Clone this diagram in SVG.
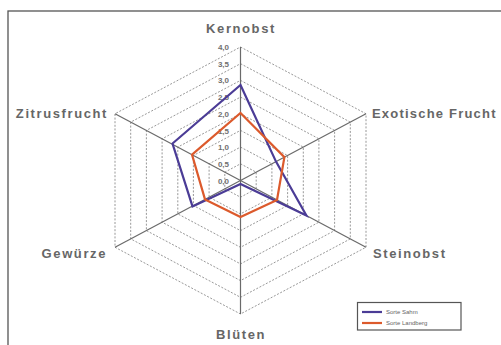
<svg xmlns="http://www.w3.org/2000/svg" width="501" height="345" viewBox="0 0 501 345">
<style>
.ring{fill:none;stroke:#8c8c8c;stroke-width:0.9;stroke-dasharray:2,1.6}
.axis{stroke:#6a6a6a;stroke-width:1.2;fill:none}
.lbl{font-family:"Liberation Sans",Arial,sans-serif;font-size:13px;font-weight:bold;fill:#666;letter-spacing:1.6px}
.tick{font-family:"Liberation Sans",Arial,sans-serif;font-size:8px;font-weight:bold;fill:#707070;text-anchor:end}
.leg{font-family:"Liberation Sans",Arial,sans-serif;font-size:6px;fill:#666}
.s1{fill:none;stroke:#4b3c96;stroke-width:2.2;stroke-linejoin:miter}
.s2{fill:none;stroke:#dc5a2c;stroke-width:2.2;stroke-linejoin:miter}
</style>
<rect x="0" y="0" width="501" height="345" fill="#ffffff"/>
<rect x="8" y="11" width="520" height="360" fill="none" stroke="#555" stroke-width="1.3"/>
<g id="grid">
<polygon class="ring" points="240.5,163.8 256.2,172.2 256.2,188.8 240.5,197.2 224.8,188.8 224.8,172.2"/>
<polygon class="ring" points="240.5,147.1 271.9,163.8 271.9,197.2 240.5,213.9 209.1,197.2 209.1,163.8"/>
<polygon class="ring" points="240.5,130.4 287.6,155.5 287.6,205.5 240.5,230.6 193.4,205.5 193.4,155.5"/>
<polygon class="ring" points="240.5,113.8 303.3,147.1 303.3,213.9 240.5,247.3 177.8,213.9 177.8,147.1"/>
<polygon class="ring" points="240.5,97.1 318.9,138.8 318.9,222.2 240.5,263.9 162.1,222.2 162.1,138.8"/>
<polygon class="ring" points="240.5,80.4 334.6,130.4 334.6,230.6 240.5,280.6 146.4,230.6 146.4,130.4"/>
<polygon class="ring" points="240.5,63.7 350.3,122.1 350.3,238.9 240.5,297.3 130.7,238.9 130.7,122.1"/>
<polygon class="ring" points="240.5,47 366,113.75 366,247.25 240.5,314 115,247.25 115,113.75"/>
</g>
<g id="connectors">
<line class="axis" x1="240.5" y1="180.5" x2="240.5" y2="47"/>
<line class="axis" x1="240.5" y1="180.5" x2="366" y2="113.75"/>
<line class="axis" x1="240.5" y1="180.5" x2="366" y2="247.25"/>
<line class="axis" x1="240.5" y1="180.5" x2="240.5" y2="314"/>
<line class="axis" x1="240.5" y1="180.5" x2="115" y2="247.25"/>
<line class="axis" x1="240.5" y1="180.5" x2="115" y2="113.75"/>
</g>
<g id="scale">
<text class="tick" x="229" y="50">4,0</text>
<text class="tick" x="229" y="66.7">3,5</text>
<text class="tick" x="229" y="83.4">3,0</text>
<text class="tick" x="229" y="100.1">2,5</text>
<text class="tick" x="229" y="116.8">2,0</text>
<text class="tick" x="229" y="133.5">1,5</text>
<text class="tick" x="229" y="150.2">1,0</text>
<text class="tick" x="229" y="166.9">0,5</text>
<text class="tick" x="229" y="183.6">0,0</text>
</g>
<g id="series-1">
<polygon class="s1" points="240.5,85 276,161.6 306.4,215.5 240.5,184 192.5,206.4 172.5,143.5"/>
</g>
<g id="series-2">
<polygon class="s2" points="240.5,113 284.4,157.1 277,200 240.5,217 205,199.4 192,154.6"/>
</g>
<g id="node-kernobst"><text class="lbl" x="241" y="33" text-anchor="middle">Kernobst</text></g>
<g id="node-exotische-frucht"><text class="lbl" x="372" y="118" style="letter-spacing:1.2px">Exotische Frucht</text></g>
<g id="node-steinobst"><text class="lbl" x="373" y="258">Steinobst</text></g>
<g id="node-blueten"><text class="lbl" x="241" y="339" text-anchor="middle">Blüten</text></g>
<g id="node-gewuerze"><text class="lbl" x="107" y="258" text-anchor="end">Gewürze</text></g>
<g id="node-zitrusfrucht"><text class="lbl" x="108" y="118" text-anchor="end">Zitrusfrucht</text></g>
<g id="legend">
<rect x="357.5" y="302.5" width="103.5" height="27.5" fill="#fff" stroke="#555" stroke-width="1.2"/>
<line x1="362" y1="312" x2="382" y2="312" stroke="#4b3c96" stroke-width="2.2"/>
<line x1="362" y1="323" x2="382" y2="323" stroke="#dc5a2c" stroke-width="2.2"/>
<text class="leg" x="386" y="314">Sorte Sahm</text>
<text class="leg" x="386" y="325">Sorte Landberg</text>
</g>
</svg>
